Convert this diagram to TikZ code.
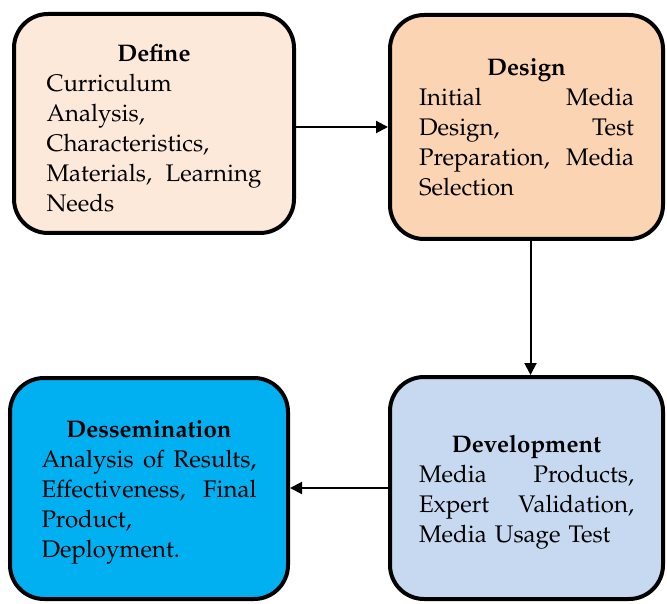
\documentclass[tikz,border=0pt]{standalone}
\usepackage[T1]{fontenc}
\usepackage{mathpazo}
\usetikzlibrary{arrows.meta}

\definecolor{defineFill}{HTML}{FDE9D9}
\definecolor{designFill}{HTML}{FBD4B4}
\definecolor{develFill}{HTML}{C6D9F1}
\definecolor{dissemFill}{HTML}{00B0F0}

\begin{document}
\begin{tikzpicture}[x=0.5pt,y=-0.5pt,
    phase/.style={draw, line width=2pt, rounded corners=17pt, text width=107.5pt,
        align=left, inner sep=0pt, font=\fontsize{12}{15}\selectfont},
    flow/.style={-{Triangle[length=6pt,width=6pt]}, line width=1pt}]
    \useasboundingbox (0,0) rectangle (667,603);
    % Phase boxes
    \node[phase, fill=defineFill, minimum width=140pt, minimum height=109.5pt]
        (define) at (154,123.5) {\makebox[\linewidth]{\rule{0pt}{13pt}\textbf{Define}}\\
        Curriculum\\ Analysis,\\ Characteristics,\\ Materials,\hfill Learning\\ Needs};
    \node[phase, fill=designFill, minimum width=136.5pt, minimum height=112pt]
        (design) at (526.5,127) {\makebox[\linewidth]{\textbf{Design}}\\
        Initial\hfill Media\\ Design,\hfill Test\\ Preparation,\hfill Media\\ Selection};
    \node[phase, fill=develFill, minimum width=136.5pt, minimum height=111pt]
        (devel) at (526.5,488) {\makebox[\linewidth]{\rule{0pt}{13pt}\textbf{Development}}\\
        Media\hfill Products,\\ Expert\hfill Validation,\\ Media Usage Test};
    \node[phase, fill=dissemFill, minimum width=139pt, minimum height=110.5pt]
        (dissem) at (149,488.5) {\makebox[\linewidth]{\rule{0pt}{12pt}\textbf{Dessemination}}\\
        Analysis\hfill of\hfill Results,\\ Effectiveness,\hfill Final\\ Product,\\ Deployment.};
    % Arrows between phases
    \draw[flow] (define.east |- design.west) -- (design.west);
    \draw[flow] ([xshift=2pt]design.south) -- ([xshift=2pt]devel.north);
    \draw[flow] (devel.west) -- (dissem.east |- devel.west);
\end{tikzpicture}
\end{document}
